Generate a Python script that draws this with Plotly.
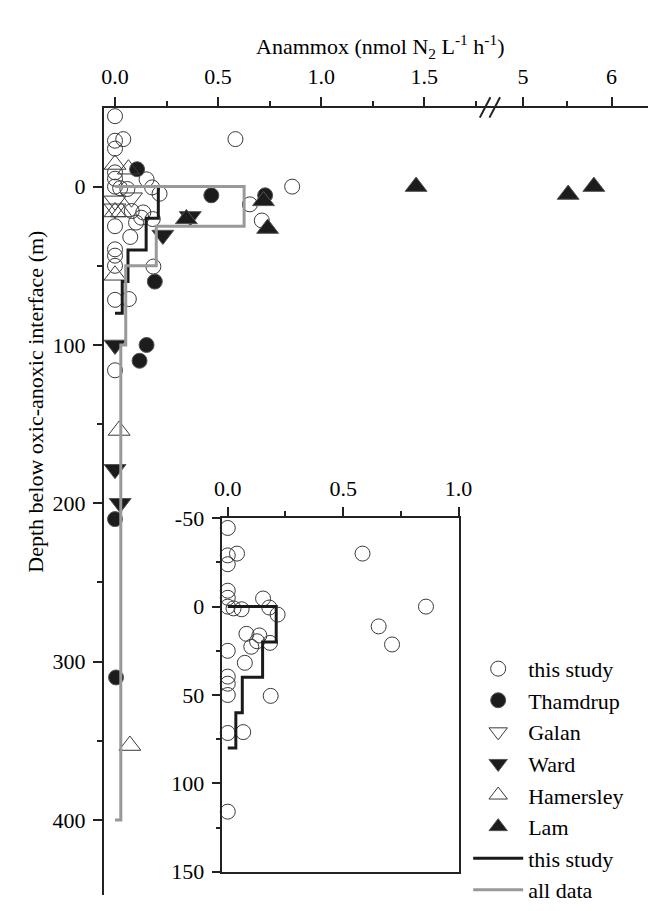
import plotly.graph_objects as go

W, H = 662, 911
FONT = "Liberation Serif"

# ---------------- data ----------------
this_study_x = [0.0, 0.0, 0.04, 0.0, 0.584, 0.0, 0.0, 0.153, 0.0, 0.025, 0.06, 0.18, 0.216, 0.859,
                0.081, 0.137, 0.127, 0.102, 0.183, 0.0, 0.074, 0.0, 0.0, 0.0, 0.186, 0.0, 0.067,
                0.0, 0.654, 0.712]
this_study_y = [-44.5, -29, -30, -24, -30, -9, -5, -4.6, 0, 1, 1.5, 0.5, 4.5, 0,
                15.4, 16.3, 19.6, 22.7, 20.5, 25, 31.8, 39.6, 43.6, 50, 50.5, 71.5, 71,
                116, 11.2, 21.4]

thamdrup_x = [0.107, 0.467, 0.728, 0.193, 0.153, 0.119, 0.0, 0.005]
thamdrup_y = [-11, 5.5, 5.5, 60, 100, 110, 210, 310]

galan_x = [0.0, 0.0, 0.08]
galan_y = [9, 14, 7]

ward_x = [0.365, 0.232, 0.0, 0.0, 0.025]
ward_y = [18.8, 30.6, 100, 178.5, 200]

hamersley_x = [0.0, 0.065, 0.0, 0.03, 0.0, 0.02, 0.072]
hamersley_y = [-14, -11, 16, 16, 56, 154, 353]

lam_x = [1.46, 5.51, 5.80, 0.72, 0.74, 0.346]
lam_y = [0, 5, 0, 9, 26.5, 20.4]

# depth-binned means (step profiles)
ts_edges = [0, 20, 40, 60, 80]
ts_rates = [0.21, 0.151, 0.063, 0.035]
all_edges = [0, 25, 50, 100, 400]
all_rates = [0.626, 0.2, 0.052, 0.028]

x_low_ticks = [0, 0.5, 1.0, 1.5]
x_low_labels = ["0.0", "0.5", "1.0", "1.5"]
x_low_minor = [0.25, 0.75, 1.25, 1.75]
x_high_ticks = [5, 6]
x_high_labels = ["5", "6"]
x_high_minor = [5.5]
depth_ticks = [0, 100, 200, 300, 400]
depth_minor = [50, 150, 250, 350]
inset_x_ticks = [0, 0.5, 1.0]
inset_x_labels = ["0.0", "0.5", "1.0"]
inset_x_minor = [0.25, 0.75]
inset_depth_ticks = [-50, 0, 50, 100, 150]
inset_depth_minor = [-25, 25, 75, 125]

BREAK_LO = 1.8204
BREAK_HI = 4.632


def step_path(edges, rates):
    xs, ys = [0], [edges[0]]
    for i, r in enumerate(rates):
        xs += [r, r]
        ys += [edges[i], edges[i + 1]]
    xs.append(0)
    ys.append(edges[-1])
    return xs, ys


OPEN_C = "#3a3a3a"
FILL_C = "#1c1c1c"
series = [
    ("this study", this_study_x, this_study_y, "circle-open", 15, OPEN_C, None),
    ("Thamdrup", thamdrup_x, thamdrup_y, "circle", 15, FILL_C, "#555"),
    ("Galan", galan_x, galan_y, "triangle-down-open", 19, OPEN_C, None),
    ("Ward", ward_x, ward_y, "triangle-down", 19, FILL_C, "#555"),
    ("Hamersley", hamersley_x, hamersley_y, "triangle-up-open", 19, OPEN_C, None),
    ("Lam", lam_x, lam_y, "triangle-up", 19, FILL_C, "#555"),
]

fig = go.Figure()

for name, xs, ys, sym, size, col, lcol in series:
    lo = [(a, b) for a, b in zip(xs, ys) if a <= BREAK_LO]
    hi = [(a, b) for a, b in zip(xs, ys) if a > BREAK_LO]
    marker = dict(symbol=sym, size=size, color=col,
                  line=dict(width=1, color=(lcol if lcol else col)))
    fig.add_trace(go.Scatter(
        x=[p[0] for p in lo], y=[p[1] for p in lo], mode="markers", name=name,
        marker=marker, xaxis="x", yaxis="y", cliponaxis=False, showlegend=True))
    if hi:
        fig.add_trace(go.Scatter(
            x=[p[0] for p in hi], y=[p[1] for p in hi], mode="markers", name=name,
            marker=marker, xaxis="x2", yaxis="y", cliponaxis=False, showlegend=False))

tsx, tsy = step_path(ts_edges, ts_rates)
alx, aly = step_path(all_edges, all_rates)
fig.add_trace(go.Scatter(x=tsx, y=tsy, mode="lines", name="this study",
                         line=dict(color="#1a1a1a", width=3), xaxis="x", yaxis="y"))
fig.add_trace(go.Scatter(x=alx, y=aly, mode="lines", name="all data",
                         line=dict(color="#999999", width=3), xaxis="x", yaxis="y"))

# inset
fig.add_trace(go.Scatter(x=this_study_x, y=this_study_y, mode="markers",
                         marker=dict(symbol="circle-open", size=15, color=OPEN_C,
                                     line=dict(width=1, color=OPEN_C)),
                         xaxis="x3", yaxis="y3", showlegend=False, cliponaxis=False))
fig.add_trace(go.Scatter(x=tsx, y=tsy, mode="lines",
                         line=dict(color="#1a1a1a", width=3),
                         xaxis="x3", yaxis="y3", showlegend=False))

AX = "#222222"
tickfont = dict(family=FONT, size=22, color="black")


def axis_common(**kw):
    d = dict(showline=True, linecolor=AX, ticks="outside", tickcolor=AX,
             showgrid=False, zeroline=False, tickfont=tickfont, tickmode="array")
    d.update(kw)
    return d


fig.update_layout(
    width=W, height=H,
    margin=dict(l=0, r=0, t=0, b=0),
    paper_bgcolor="white", plot_bgcolor="rgba(0,0,0,0)",
    font=dict(family=FONT, size=22, color="black"),
    xaxis=axis_common(domain=[99.3 / W, 499 / W], range=[-0.0534, BREAK_LO],
                      anchor="y", side="top", linewidth=2, ticklen=9, tickwidth=1.5,
                      ticklabelstandoff=4,
                      tickvals=x_low_ticks, ticktext=x_low_labels,
                      minor=dict(tickvals=x_low_minor, ticklen=5, tickwidth=1.5,
                                 ticks="outside", tickcolor=AX)),
    xaxis2=axis_common(domain=[499 / W, 1.0], range=[BREAK_HI, 6.4116],
                       anchor="y", side="top", linewidth=2, ticklen=9, tickwidth=1.5,
                       ticklabelstandoff=4,
                       tickvals=x_high_ticks, ticktext=x_high_labels,
                       minor=dict(tickvals=x_high_minor, ticklen=5, tickwidth=1.5,
                                  ticks="outside", tickcolor=AX)),
    yaxis=axis_common(domain=[0, 1 - 99.3 / H], range=[447.4, -49.5], anchor="x",
                      linewidth=2, ticklen=9, tickwidth=1.5, ticklabelstandoff=3,
                      tickvals=depth_ticks, ticktext=[str(v) for v in depth_ticks],
                      minor=dict(tickvals=depth_minor, ticklen=5, tickwidth=1.5,
                                 ticks="outside", tickcolor=AX)),
    xaxis3=axis_common(domain=[221.7 / W, 466 / W], range=[-0.0235, 1.0],
                       anchor="y3", side="top", mirror=True, linewidth=1.5,
                       ticklen=9, tickwidth=1.5, ticklabelstandoff=3,
                       tickvals=inset_x_ticks, ticktext=inset_x_labels,
                       minor=dict(tickvals=inset_x_minor, ticklen=5, tickwidth=1.5,
                                  ticks="outside", tickcolor=AX)),
    yaxis3=axis_common(domain=[1 - 887 / H, 1 - 522.3 / H], range=[150, -50],
                       anchor="x3", mirror=True, linewidth=1.5,
                       ticklen=9, tickwidth=1.5, ticklabelstandoff=3,
                       tickvals=inset_depth_ticks,
                       ticktext=[str(v) for v in inset_depth_ticks],
                       minor=dict(tickvals=inset_depth_minor, ticklen=5, tickwidth=1.5,
                                  ticks="outside", tickcolor=AX)),
    legend=dict(x=476 / W, y=1 - 656 / H, xanchor="left", yanchor="top",
                font=dict(family=FONT, size=22, color="black"),
                bgcolor="rgba(0,0,0,0)", itemwidth=50, tracegroupgap=0,
                traceorder="normal"),
    showlegend=True,
)

# axis break marks
for dx in (0, 10):
    fig.add_shape(type="line", xref="paper", yref="paper",
                  x0=(488 + dx) / W, y0=1 - 109 / H, x1=(499 + dx) / W, y1=1 - 88 / H,
                  line=dict(color=AX, width=2))

fig.add_annotation(text="Anammox (nmol N<sub>2</sub> L<sup>-1</sup> h<sup>-1</sup>)",
                   xref="paper", yref="paper", x=385 / W, y=1 - 36 / H,
                   showarrow=False, font=dict(family=FONT, size=22, color="black"),
                   xanchor="center", yanchor="middle")
fig.add_annotation(text="Depth below oxic-anoxic interface (m)",
                   xref="paper", yref="paper", x=29 / W, y=1 - 402 / H,
                   showarrow=False, textangle=-90,
                   font=dict(family=FONT, size=22, color="black"),
                   xanchor="center", yanchor="middle")

fig.write_html("out.html",
               post_script="document.body.style.margin='0';document.body.style.overflow='hidden';")
